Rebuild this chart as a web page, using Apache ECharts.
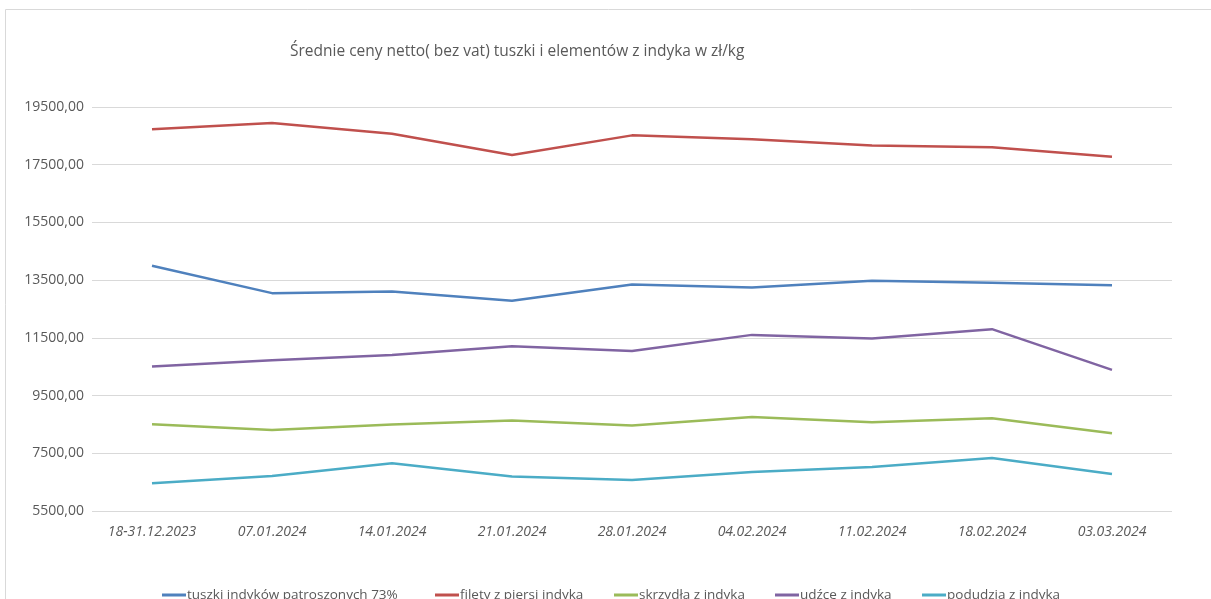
<!DOCTYPE html>
<html>
<head>
<meta charset="utf-8">
<script src="https://cdn.jsdelivr.net/npm/echarts@6/dist/echarts.min.js"></script>
<style>html,body{margin:0;padding:0;background:#fff}#c{width:1211px;height:599px}</style>
</head>
<body>
<div id="c"></div>
<script>
const categories = ['18-31.12.2023','07.01.2024','14.01.2024','21.01.2024','28.01.2024','04.02.2024','11.02.2024','18.02.2024','03.03.2024'];
const seriesNames = ['tuszki indyków patroszonych 73%','filety z piersi indyka','skrzydła z indyka','udźce z indyka','podudzia z indyka'];
const tuszki = [13996, 13050, 13107, 12783, 13350, 13246, 13477, 13407, 13327];
const filety = [18727, 18945, 18575, 17835, 18517, 18379, 18170, 18101, 17777];
const skrzydla = [8506, 8309, 8496, 8634, 8461, 8760, 8576, 8715, 8194];
const udzce = [10507, 10726, 10910, 11211, 11048, 11603, 11478, 11801, 10390];
const podudzia = [6460, 6713, 7154, 6693, 6575, 6852, 7026, 7338, 6783];
const yTicks = [5500, 7500, 9500, 11500, 13500, 15500, 17500, 19500];
const title = 'Średnie ceny netto( bez vat) tuszki i elementów z indyka w zł/kg';

const colors = ['#4F81BD','#C0504D','#9BBB59','#8064A2','#4BACC6'];
const values = [tuszki, filety, skrzydla, udzce, podudzia];
const FONT = '"Open Sans", sans-serif';
const legendLefts = [162, 435, 614, 775, 922];

const chart = echarts.init(document.getElementById('c'));
chart.setOption({
  animation: false,
  color: colors,
  title: {
    text: title, left: 290, top: 44, padding: 0,
    textStyle: {fontFamily: FONT, fontSize: 15.5, fontWeight: 'normal', color: '#595959'}
  },
  graphic: [{
    type: 'rect', shape: {x: 5.5, y: 9.5, width: 1300, height: 700},
    style: {fill: 'none', stroke: '#d9d9d9', lineWidth: 1}, silent: true
  }],
  legend: seriesNames.map((n, i) => ({
    data: [n], left: legendLefts[i], top: 588, itemWidth: 24, itemHeight: 3,
    icon: 'rect', itemGap: 2, padding: 0,
    textStyle: {fontFamily: FONT, fontSize: 13.5, color: '#595959', padding: [0,0,0,-4]}
  })),
  grid: {left: 92, right: 39, top: 107, bottom: 88},
  xAxis: {
    type: 'category', data: categories, boundaryGap: true,
    axisLine: {show: false}, axisTick: {show: false},
    axisLabel: {fontFamily: FONT, fontSize: 14, fontStyle: 'italic', color: '#595959', margin: 14}
  },
  yAxis: {
    type: 'value', min: yTicks[0], max: yTicks[yTicks.length-1], interval: 2000,
    axisLine: {show: false}, axisTick: {show: false},
    splitLine: {lineStyle: {color: '#d9d9d9', width: 1}},
    axisLabel: {fontFamily: FONT, fontSize: 14, color: '#595959', margin: 8,
      formatter: v => v.toFixed(2).replace('.', ',')}
  },
  series: seriesNames.map((n, i) => ({
    name: n, type: 'line', data: values[i], symbol: 'none',
    lineStyle: {width: 2.5, color: colors[i]}
  }))
});
</script>
</body>
</html>
